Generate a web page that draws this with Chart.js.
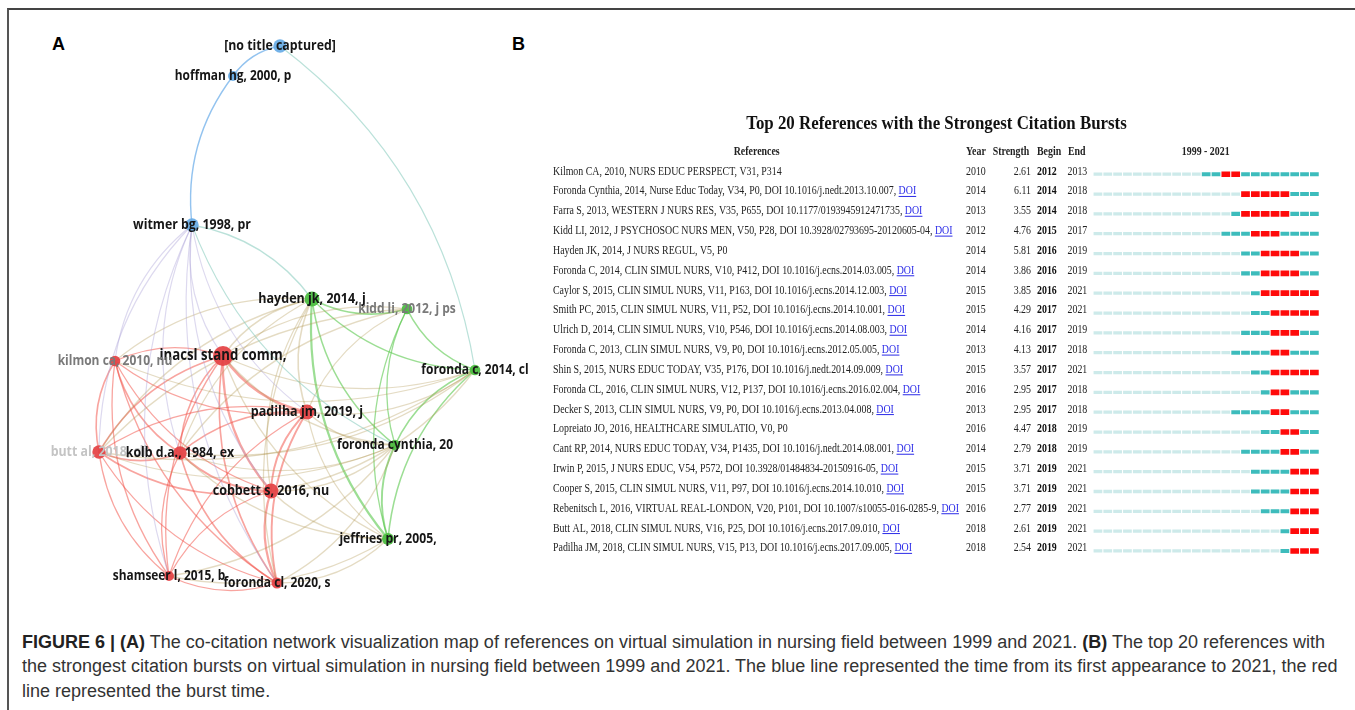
<!DOCTYPE html>
<html><head><meta charset="utf-8">
<script src="https://cdn.jsdelivr.net/npm/chart.js@4.4.0/dist/chart.umd.min.js"></script>
<style>
html,body{margin:0;padding:0;background:#fff;width:1355px;height:710px;overflow:hidden;position:relative;font-family:"Liberation Sans",Arial,sans-serif;}
#frame{position:absolute;left:7px;top:8px;width:1400px;height:760px;border-top:2px solid #444;border-left:2px solid #555;box-sizing:border-box;}
.plabel{position:absolute;font:bold 18px "Liberation Sans",Arial,sans-serif;line-height:18px;color:#000;}
#cA{position:absolute;left:20px;top:20px;}
#cB{position:absolute;left:540px;top:100px;}
#caption{position:absolute;left:22px;top:629.5px;font-size:18px;line-height:24.5px;color:#333;white-space:nowrap;}
#caption b{color:#222;}
</style></head><body>
<div id="frame"></div>
<div class="plabel" style="left:52px;top:35px;">A</div>
<div class="plabel" style="left:512px;top:35px;">B</div>
<canvas id="cA" width="515" height="580"></canvas>
<canvas id="cB" width="790" height="470"></canvas>
<div id="caption"><b>FIGURE 6 | (A)</b> The co-citation network visualization map of references on virtual simulation in nursing field between 1999 and 2021. <b>(B)</b> The top 20 references with<br>the strongest citation bursts on virtual simulation in nursing field between 1999 and 2021. The blue line represented the time from its first appearance to 2021, the red<br>line represented the burst time.</div>
<script>
// ---------- Panel A data (co-citation network) ----------
const nodeLabels = ["[no title captured]","hoffman hg, 2000, p","witmer bg, 1998, pr","hayden jk, 2014, j","kidd li, 2012, j ps","inacsl stand comm,","kilmon ca, 2010, nu","foronda c, 2014, cl","padilha jm, 2019, j","foronda cynthia, 20","butt al, 2018, cli","kolb d.a., 1984, ex","cobbett s, 2016, nu","jeffries pr, 2005,","shamseer l, 2015, b","foronda cl, 2020, s"];
const nodeCluster = ["blue","blue","blue","green","green","red","red","green","red","green","red","red","red","green","red","red"];
const nodeX = [-0.05,-0.285,-0.49,0.11,0.585,-0.335,-0.875,0.925,0.085,0.525,-0.955,-0.55,-0.095,0.49,-0.605,-0.065];
const nodeY = [1.37,1.22,0.475,0.105,0.055,-0.18,-0.205,-0.25,-0.46,-0.625,-0.66,-0.665,-0.855,-1.095,-1.28,-1.315];
const nodeWeight = [6.7,5,6.7,7.5,5.3,10,5.3,5.3,7.5,5.3,6.7,6.7,7.5,6,5,5.5];
const nodeLabelTone = [0,0,0,0,1,0,1,0,0,0,2,0,0,0,0,0];
const edges = [
 [5,6,1],[5,8,3],[5,10,1.5],[5,11,1.5],[5,12,2.5],[5,14,1],[5,15,1.5],
 [6,8,1],[6,10,1.5],[6,11,1.5],[6,12,1],[6,14,1],[6,15,1],
 [8,10,1],[8,11,1.5],[8,12,2],[8,14,1],[8,15,2],
 [10,11,1.5],[10,12,1.5],[10,14,1],[10,15,1],
 [11,12,2],[11,14,1],[11,15,1.5],[12,14,1],[12,15,2.5],[14,15,1],
 [3,4,1.5],[3,7,1],[3,9,1.5],[3,13,2.5],[4,7,1.5],[4,9,1],[4,13,1],[7,9,1.5],[7,13,1.5],[9,13,2],
 [3,5,1.5],[3,8,1.5],[3,12,1],[3,11,1],[3,10,1],[3,15,1],[3,6,1],[4,5,1],[4,8,1],[4,10,1],[4,11,1],
 [5,7,1],[8,7,1],[12,7,1],[10,7,1],[11,7,1],[6,7,0.8],[8,9,1],[12,9,1.5],[5,9,1],[11,9,1],[10,9,1],[14,9,1],[15,9,1],
 [12,13,1.5],[8,13,1],[15,13,1],[14,13,1],[11,13,1],[5,13,1],
 [0,1,1.5],[1,2,1.2],[7,0,0.8],[3,2,1],[2,5,0.8],[2,6,0.8],[2,8,0.8],[2,10,0.8],[2,11,0.8],[2,12,0.8],[2,14,0.8],[2,15,0.8],[2,9,0.6]
];

// ---------- Panel B data (citation bursts) ----------
const refText = [
 "Kilmon CA, 2010, NURS EDUC PERSPECT, V31, P314",
 "Foronda Cynthia, 2014, Nurse Educ Today, V34, P0, DOI 10.1016/j.nedt.2013.10.007, ",
 "Farra S, 2013, WESTERN J NURS RES, V35, P655, DOI 10.1177/0193945912471735, ",
 "Kidd LI, 2012, J PSYCHOSOC NURS MEN, V50, P28, DOI 10.3928/02793695-20120605-04, ",
 "Hayden JK, 2014, J NURS REGUL, V5, P0",
 "Foronda C, 2014, CLIN SIMUL NURS, V10, P412, DOI 10.1016/j.ecns.2014.03.005, ",
 "Caylor S, 2015, CLIN SIMUL NURS, V11, P163, DOI 10.1016/j.ecns.2014.12.003, ",
 "Smith PC, 2015, CLIN SIMUL NURS, V11, P52, DOI 10.1016/j.ecns.2014.10.001, ",
 "Ulrich D, 2014, CLIN SIMUL NURS, V10, P546, DOI 10.1016/j.ecns.2014.08.003, ",
 "Foronda C, 2013, CLIN SIMUL NURS, V9, P0, DOI 10.1016/j.ecns.2012.05.005, ",
 "Shin S, 2015, NURS EDUC TODAY, V35, P176, DOI 10.1016/j.nedt.2014.09.009, ",
 "Foronda CL, 2016, CLIN SIMUL NURS, V12, P137, DOI 10.1016/j.ecns.2016.02.004, ",
 "Decker S, 2013, CLIN SIMUL NURS, V9, P0, DOI 10.1016/j.ecns.2013.04.008, ",
 "Lopreiato JO, 2016, HEALTHCARE SIMULATIO, V0, P0",
 "Cant RP, 2014, NURS EDUC TODAY, V34, P1435, DOI 10.1016/j.nedt.2014.08.001, ",
 "Irwin P, 2015, J NURS EDUC, V54, P572, DOI 10.3928/01484834-20150916-05, ",
 "Cooper S, 2015, CLIN SIMUL NURS, V11, P97, DOI 10.1016/j.ecns.2014.10.010, ",
 "Rebenitsch L, 2016, VIRTUAL REAL-LONDON, V20, P101, DOI 10.1007/s10055-016-0285-9, ",
 "Butt AL, 2018, CLIN SIMUL NURS, V16, P25, DOI 10.1016/j.ecns.2017.09.010, ",
 "Padilha JM, 2018, CLIN SIMUL NURS, V15, P13, DOI 10.1016/j.ecns.2017.09.005, "
];
const refHasDoi = [false,true,true,true,false,true,true,true,true,true,true,true,true,false,true,true,true,true,true,true];
const refYear = [2010,2014,2013,2012,2014,2014,2015,2015,2014,2013,2015,2016,2013,2016,2014,2015,2015,2016,2018,2018];
const refStrength = [2.61,6.11,3.55,4.76,5.81,3.86,3.85,4.29,4.16,4.13,3.57,2.95,2.95,4.47,2.79,3.71,3.71,2.77,2.61,2.54];
const burstBegin = [2012,2014,2014,2015,2016,2016,2016,2017,2017,2017,2017,2017,2017,2018,2018,2019,2019,2019,2019,2019];
const burstEnd = [2013,2018,2018,2017,2019,2019,2021,2021,2019,2018,2021,2018,2018,2019,2019,2021,2021,2021,2021,2021];
const spanStart = 1999, spanEnd = 2021;
const headers = ["References","Year","Strength","Begin","End","1999 - 2021"];
const titleB = "Top 20 References with the Strongest Citation Bursts";

// ---------- helpers ----------
function sText(ctx, txt, x, y, font, color, align, sx){
  ctx.save(); ctx.font = font; ctx.fillStyle = color; ctx.textBaseline = 'middle';
  ctx.translate(x, y); ctx.scale(sx, 1); ctx.textAlign = align; ctx.fillText(txt, 0, 0);
  const w = ctx.measureText(txt).width * sx; ctx.restore(); return w;
}

// ---------- Panel A chart ----------
const clusterFill = {red:'rgba(228,68,70,0.94)', green:'rgba(76,190,66,0.94)', blue:'rgba(104,172,230,0.93)'};
function edgeColor(a,b){
  const s = [nodeCluster[a],nodeCluster[b]].sort().join('-');
  return ({'red-red':'rgba(242,80,70,0.52)','green-green':'rgba(90,200,76,0.6)','green-red':'rgba(175,150,80,0.34)',
    'blue-blue':'rgba(120,180,235,0.8)','blue-red':'rgba(170,160,215,0.4)','blue-green':'rgba(130,200,185,0.55)'})[s];
}
const edgePlugin = {
  id:'edges',
  beforeDatasetsDraw(chart){
    const ctx = chart.ctx, xs = chart.scales.x, ys = chart.scales.y;
    ctx.save(); ctx.lineCap = 'round';
    edges.forEach(([a,b,w])=>{
      const x1 = xs.getPixelForValue(nodeX[a]), y1 = ys.getPixelForValue(nodeY[a]);
      const x2 = xs.getPixelForValue(nodeX[b]), y2 = ys.getPixelForValue(nodeY[b]);
      const dx = x2-x1, dy = y2-y1, c = 0.2;
      const cx = (x1+x2)/2 - dy*c, cy = (y1+y2)/2 + dx*c;
      ctx.beginPath(); ctx.moveTo(x1,y1); ctx.quadraticCurveTo(cx,cy,x2,y2);
      ctx.strokeStyle = edgeColor(a,b); ctx.lineWidth = 0.7 + 0.6*w; ctx.stroke();
    });
    ctx.restore();
  }
};
const labelPlugin = {
  id:'nodeLabels',
  afterDatasetsDraw(chart){
    const ctx = chart.ctx, xs = chart.scales.x, ys = chart.scales.y;
    const tones = ['#161616','#7a7a7a','#c4c4c4'];
    nodeLabels.forEach((t,i)=>{
      const fs = (12.2 + 0.3*nodeWeight[i]).toFixed(1);
      sText(ctx, t, xs.getPixelForValue(nodeX[i]), ys.getPixelForValue(nodeY[i]),
        `bold ${fs}px "Open Sans", sans-serif`, tones[nodeLabelTone[i]], 'center', 0.87);
    });
  }
};
new Chart(document.getElementById('cA'), {
  type:'bubble',
  data:{datasets:[{
    data: nodeX.map((x,i)=>({x, y:nodeY[i], r:nodeWeight[i]})),
    backgroundColor: nodeCluster.map(c=>clusterFill[c]), borderWidth:0, clip:false,
    radius: ctx => (ctx.raw ? ctx.raw.r * 1.22 : 3)
  }]},
  options:{
    responsive:false, animation:false, devicePixelRatio:1,
    layout:{padding:0, autoPadding:false},
    scales:{x:{type:'linear',min:-1.35,max:1.225,display:false},y:{type:'linear',min:-1.4,max:1.5,display:false}},
    plugins:{legend:{display:false},tooltip:{enabled:false}},
    events:[]
  },
  plugins:[edgePlugin,labelPlugin]
});

// ---------- Panel B chart ----------
function cellClass(i, yr){
  if (yr < refYear[i]) return 'light';
  if (yr >= burstBegin[i] && yr <= burstEnd[i]) return 'red';
  return 'teal';
}
const segColor = {light:'#cdeaea', teal:'#3dbcbc', red:'#ff0a0a'};
const segThick = {light:2.6, teal:3.4, red:5};
const bDatasets = [];
for (let yr = spanStart; yr <= spanEnd; yr++){
  ['light','teal','red'].forEach(cls=>{
    const data = refYear.map((_,i)=> cellClass(i,yr)===cls ? [yr+0.09, yr+0.91] : null);
    if (data.some(d=>d)) bDatasets.push({data, backgroundColor:segColor[cls], barThickness:segThick[cls], grouped:false, borderWidth:0, borderSkipped:false});
  });
}
const tablePlugin = {
  id:'burstTable',
  afterDraw(chart){
    const ctx = chart.ctx, ys = chart.scales.y;
    const ox = 540, oy = 100, sx = 0.86;
    const reg = '11.5px "Liberation Serif", "Times New Roman", serif';
    const bold = 'bold 11.5px "Liberation Serif", "Times New Roman", serif';
    sText(ctx, titleB, 936.5-ox, 123.5-oy, 'bold 19.5px "Liberation Serif", serif', '#111', 'center', 0.865);
    const hy = 151.7-oy;
    sText(ctx, headers[0], 756.7-ox, hy, bold, '#222', 'center', sx);
    sText(ctx, headers[1], 966-ox, hy, bold, '#222', 'left', sx);
    sText(ctx, headers[2], 992.7-ox, hy, bold, '#222', 'left', sx);
    sText(ctx, headers[3], 1037-ox, hy, bold, '#222', 'left', sx);
    sText(ctx, headers[4], 1068-ox, hy, bold, '#222', 'left', sx);
    sText(ctx, headers[5], 1205.7-ox, hy, bold, '#222', 'center', sx);
    refText.forEach((t,i)=>{
      const y = ys.getPixelForValue(i) - 2.6;
      const w = sText(ctx, t, 553-ox, y, reg, '#222', 'left', sx);
      if (refHasDoi[i]){
        const dx = 553-ox+w;
        const dw = sText(ctx, 'DOI', dx, y, reg, '#2b2be8', 'left', sx);
        ctx.save(); ctx.fillStyle = '#2b2be8'; ctx.fillRect(dx, y+4.5, dw, 1); ctx.restore();
      }
      sText(ctx, String(refYear[i]), 966-ox, y, reg, '#222', 'left', sx);
      sText(ctx, refStrength[i].toFixed(2), 1031-ox, y, reg, '#222', 'right', sx);
      sText(ctx, String(burstBegin[i]), 1037-ox, y, bold, '#111', 'left', sx);
      sText(ctx, String(burstEnd[i]), 1067.5-ox, y, reg, '#222', 'left', sx);
    });
  }
};
new Chart(document.getElementById('cB'), {
  type:'bar',
  data:{labels: refText.map((_,i)=>String(i+1)), datasets:bDatasets},
  options:{
    indexAxis:'y', responsive:false, animation:false, devicePixelRatio:1,
    layout:{padding:{left:553, right:10.7, top:64.3, bottom:9.1}},
    scales:{
      x:{type:'linear', min:spanStart, max:spanEnd+1, display:false},
      y:{type:'category', display:false, offset:true}
    },
    plugins:{legend:{display:false},tooltip:{enabled:false}},
    events:[]
  },
  plugins:[tablePlugin]
});
</script>
</body></html>
